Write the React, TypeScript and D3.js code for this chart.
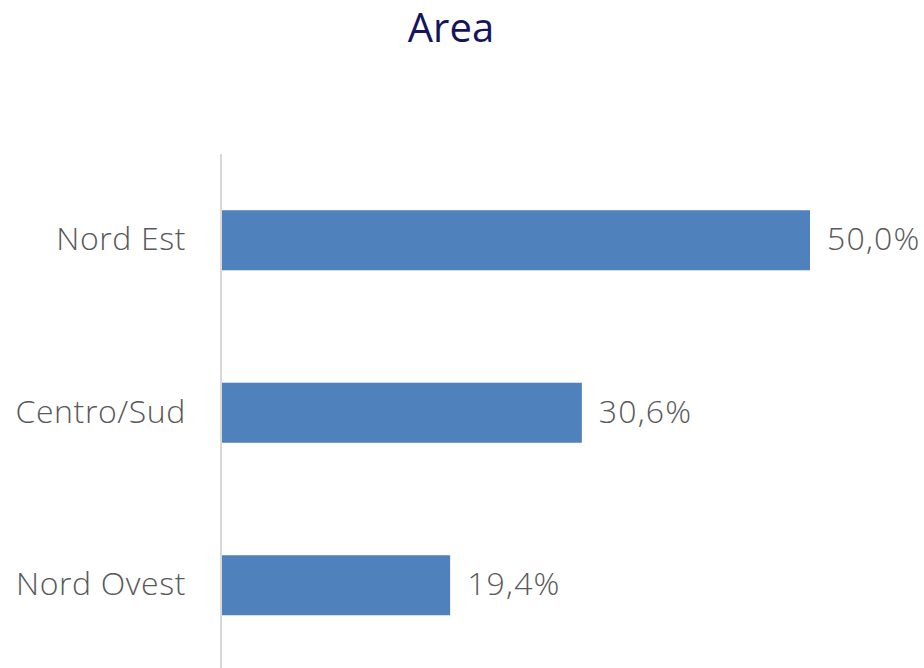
import React from "react";
import * as d3 from "d3";

const categories = ["Nord Est", "Centro/Sud", "Nord Ovest"];
const values = [50.0, 30.6, 19.4];
const title = "Area";

const W = 924;
const H = 668;

export default function App() {
  const x = d3.scaleLinear().domain([0, 50]).range([222, 810]);
  const y = d3
    .scaleBand<string>()
    .domain(categories)
    .range([154, 671.5])
    .paddingInner(0.652)
    .paddingOuter(0.326);
  const fmt = (v: number) => v.toFixed(1).replace(".", ",") + "%";
  const font = "'Open Sans', 'Segoe UI', sans-serif";
  return (
    <svg
      width={W}
      height={H}
      style={{ position: "absolute", left: 0, top: 0, background: "#fff" }}
    >
      <text
        x={451}
        y={42}
        textAnchor="middle"
        fontFamily={font}
        fontSize={40}
        fill="#15155c"
      >
        {title}
      </text>
      {categories.map((c, i) => (
        <g key={c}>
          <rect
            x={x(0)}
            y={y(c)!}
            width={x(values[i]) - x(0)}
            height={y.bandwidth()}
            fill="#4f81bd"
          />
          <text
            x={186}
            y={y(c)! + y.bandwidth() / 2}
            dy="0.32em"
            textAnchor="end"
            fontFamily={font}
            fontSize={32}
            fontWeight={300}
            letterSpacing={0.6}
            fill="#595959"
          >
            {c}
          </text>
          <text
            x={x(values[i]) + 17}
            y={y(c)! + y.bandwidth() / 2}
            dy="0.32em"
            textAnchor="start"
            fontFamily={font}
            fontSize={32}
            fontWeight={300}
            letterSpacing={1.2}
            fill="#595959"
          >
            {fmt(values[i])}
          </text>
        </g>
      ))}
      <line x1={221} x2={221} y1={154} y2={668} stroke="#d9d9d9" strokeWidth={2} />
    </svg>
  );
}
